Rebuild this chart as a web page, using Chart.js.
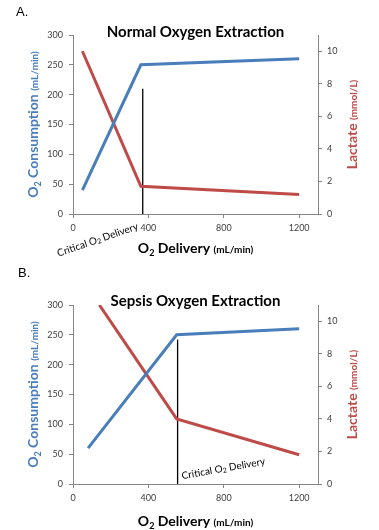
<!DOCTYPE html>
<html>
<head>
<meta charset="utf-8">
<script src="https://cdn.jsdelivr.net/npm/chart.js@4"></script>
<style>
  html, body { margin: 0; padding: 0; background: #fff; }
  .panel { position: relative; width: 379px; height: 265px; }
  canvas { display: block; }
</style>
</head>
<body>
<div class="panel"><canvas id="chartA" width="379" height="265"></canvas></div>
<div class="panel"><canvas id="chartB" width="379" height="265"></canvas></div>
<script>
// ---- tick labels ----
const xTicks = [0, 400, 800, 1200];
const yLeftTicks = [0, 50, 100, 150, 200, 250, 300];
const yRightTicks = [0, 2, 4, 6, 8, 10];

// ---- Panel A: Normal Oxygen Extraction ----
const deliveryA_consumption = [50, 360, 1200];
const consumptionA = [40, 250, 260];
const deliveryA_lactate = [50, 360, 1200];
const lactateA = [10, 1.7, 1.2];
const criticalDeliveryA = [370, 370];
const criticalLineA = [0, 210];

// ---- Panel B: Sepsis Oxygen Extraction ----
const deliveryB_consumption = [80, 550, 1200];
const consumptionB = [60, 250, 260];
const deliveryB_lactate = [140, 550, 1200];
const lactateB = [11, 4, 1.8];
const criticalDeliveryB = [555, 555];
const criticalLineB = [0, 242];

const FONT = 'Lato, "Open Sans", sans-serif';
const BLUE = '#4A7EBB';
const RED = '#BE4B48';
const AXIS = '#868686';
const TICKTXT = '#404040';

function pts(xs, ys) { return xs.map((x, i) => ({ x: x, y: ys[i] })); }

const textPlugin = {
  id: 'textPlugin',
  afterDraw(chart, args, o) {
    const ctx = chart.ctx, ca = chart.chartArea;
    const xs = chart.scales.x, ys = chart.scales.y;
    ctx.save();
    // panel letter
    ctx.fillStyle = '#000';
    ctx.font = '13px "Liberation Sans", Arial, sans-serif';
    ctx.textAlign = 'left'; ctx.textBaseline = 'middle';
    ctx.fillText(o.panel, o.panelX, o.panelY);
    // title
    ctx.font = 'bold 15px ' + FONT;
    ctx.textAlign = 'center';
    ctx.fillText(o.title, (ca.left + ca.right) / 2, ca.top + o.titleDy);

    function drawParts(parts, cx, cy, rot, color) {
      ctx.save();
      ctx.translate(cx, cy);
      ctx.rotate(rot);
      ctx.fillStyle = color;
      ctx.textAlign = 'left'; ctx.textBaseline = 'alphabetic';
      let total = 0;
      parts.forEach(p => { ctx.font = p.f; total += ctx.measureText(p.t).width; });
      let x = -total / 2;
      parts.forEach(p => {
        ctx.font = p.f;
        ctx.fillText(p.t, x, (p.dy || 0) + 5);
        x += ctx.measureText(p.t).width;
      });
      ctx.restore();
    }
    const big = 'bold 14px ' + FONT, sub = 'bold 9px ' + FONT, small = 'bold 10px ' + FONT;
    // left axis title
    drawParts([{t:'O', f:big},{t:'2', f:sub, dy:3},{t:' Consumption ', f:big},{t:'(mL/min)', f:small}],
      ca.left + o.leftTitleDx, (ca.top + ca.bottom) / 2, -Math.PI / 2, BLUE);
    // right axis title
    drawParts([{t:'Lactate ', f:big},{t:'(mmol/L)', f:small}],
      ca.right + o.rightTitleDx, (ca.top + ca.bottom) / 2, -Math.PI / 2, RED);
    // x axis title
    drawParts([{t:'O', f:big},{t:'2', f:sub, dy:3},{t:' Delivery ', f:big},{t:'(mL/min)', f:small}],
      (ca.left + ca.right) / 2, ca.bottom + o.xTitleDy, 0, '#000');
    // critical label
    const px = xs.getPixelForValue(o.critX), py = ys.getPixelForValue(0);
    ctx.save();
    ctx.translate(px + o.critDx, py + o.critDy);
    ctx.rotate(o.critRot * Math.PI / 180);
    ctx.fillStyle = '#000';
    ctx.textBaseline = 'middle';
    const f1 = '10px ' + FONT, f2 = '7px ' + FONT;
    const parts = [{t:'Critical O', f:f1},{t:'2', f:f2, dy:2},{t:' Delivery', f:f1}];
    let tw = 0; parts.forEach(p => { ctx.font = p.f; tw += ctx.measureText(p.t).width; });
    let x = o.critAlign === 'right' ? -tw : 0;
    ctx.textAlign = 'left';
    parts.forEach(p => { ctx.font = p.f; ctx.fillText(p.t, x, p.dy || 0); x += ctx.measureText(p.t).width; });
    ctx.restore();
    ctx.restore();
  }
};

function makeChart(id, d) {
  const tickFont = { family: FONT, size: 9 };
  const plain = v => String(v);
  return new Chart(document.getElementById(id), {
    type: 'line',
    data: {
      datasets: [
        { data: pts(d.vx, d.vy), yAxisID: 'y', borderColor: BLUE, borderWidth: 3, pointRadius: 0, tension: 0 },
        { data: pts(d.lx, d.ly), yAxisID: 'y1', borderColor: RED, borderWidth: 3, pointRadius: 0, tension: 0 },
        { data: pts(d.cx, d.cy), yAxisID: 'y', borderColor: '#000', borderWidth: 1.3, pointRadius: 0, tension: 0 }
      ]
    },
    options: {
      responsive: false, animation: false, devicePixelRatio: 1,
      layout: { padding: { top: d.top, left: 0, right: 0, bottom: 0 } },
      plugins: { legend: { display: false }, tooltip: { enabled: false }, title: { display: false },
        textPlugin: d.text },
      scales: {
        x: {
          type: 'linear', position: 'bottom', min: 0, max: 1300,
          afterBuildTicks: s => { s.ticks = xTicks.map(v => ({ value: v })); },
          afterFit: s => { s.height = d.xH; },
          grid: { drawOnChartArea: false, tickLength: 4, color: AXIS },
          border: { color: AXIS },
          ticks: { font: tickFont, color: TICKTXT, padding: 5, maxRotation: 0, callback: plain }
        },
        y: {
          type: 'linear', position: 'left', min: 0, max: 300,
          afterBuildTicks: s => { s.ticks = yLeftTicks.map(v => ({ value: v })); },
          afterFit: s => { s.width = 73; },
          grid: { drawOnChartArea: false, tickLength: 4, color: AXIS },
          border: { color: AXIS },
          ticks: { font: tickFont, color: TICKTXT, padding: 6, callback: plain }
        },
        y1: {
          type: 'linear', position: 'right', min: 0, max: 11,
          afterBuildTicks: s => { s.ticks = yRightTicks.map(v => ({ value: v })); },
          afterFit: s => { s.width = 61; },
          grid: { drawOnChartArea: false, tickLength: 4, color: AXIS },
          border: { color: AXIS },
          ticks: { font: tickFont, color: TICKTXT, padding: 5, callback: plain }
        }
      }
    },
    plugins: [textPlugin]
  });
}

makeChart('chartA', {
  vx: deliveryA_consumption, vy: consumptionA,
  lx: deliveryA_lactate, ly: lactateA,
  cx: criticalDeliveryA, cy: criticalLineA,
  top: 35, xH: 51,
  text: { panel: 'A.', panelX: 16, panelY: 12, title: 'Normal Oxygen Extraction', titleDy: -3,
    leftTitleDx: -40, rightTitleDx: 34, xTitleDy: 34,
    critX: 370, critDx: -5, critDy: 12, critRot: -19, critAlign: 'right' }
});
makeChart('chartB', {
  vx: deliveryB_consumption, vy: consumptionB,
  lx: deliveryB_lactate, ly: lactateB,
  cx: criticalDeliveryB, cy: criticalLineB,
  top: 40, xH: 46,
  text: { panel: 'B.', panelX: 18, panelY: 8, title: 'Sepsis Oxygen Extraction', titleDy: -4,
    leftTitleDx: -40, rightTitleDx: 34, xTitleDy: 37,
    critX: 555, critDx: 4, critDy: -8, critRot: -10, critAlign: 'left' }
});
</script>
</body>
</html>
